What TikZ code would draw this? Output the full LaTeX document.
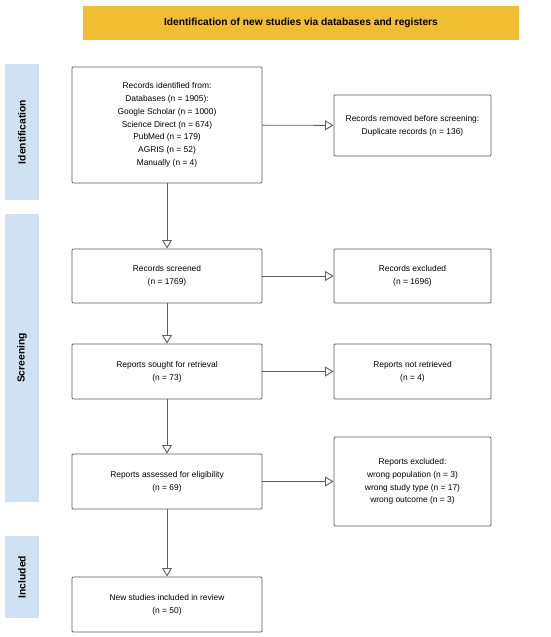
\documentclass[tikz,border=0pt]{standalone}
\usepackage{fontspec}
\setmainfont{Liberation Sans}
\usetikzlibrary{arrows.meta}
\definecolor{banner}{HTML}{F0BE32}
\definecolor{phase}{HTML}{CFE2F3}
\definecolor{edge}{HTML}{5F5F5F}
\begin{document}
\begin{tikzpicture}[x=1pt,y=-1pt,
  boxstyle/.style={draw=edge, line width=0.9pt, rounded corners=1pt, fill=white, align=center, inner sep=0pt,
    font=\fontsize{8.4}{12.8}\selectfont},
  phasebar/.style={fill=phase, draw=none, inner sep=0pt, minimum width=34pt},
  phaselabel/.style={rotate=90, font=\fontsize{10.3}{12}\selectfont\bfseries},
  conn/.style={draw=edge, line width=0.9pt, -{Triangle[open, length=8.5pt, width=10pt, fill=white]}}
]
\useasboundingbox (0,0) rectangle (550,637);
\fill[white] (0,0) rectangle (550,637);

% banner
\node[fill=banner, minimum width=436pt, minimum height=34pt, inner sep=0pt,
  font=\fontsize{10.2}{12}\selectfont\bfseries] (title) at (301,23) {Identification of new studies via databases and registers};

% phase bars
\node[phasebar, minimum height=136pt] (pid) at (22,132) {};
\node[phaselabel] (lid) at (pid.center) {Identification};
\node[phasebar, minimum height=288pt] (psc) at (22,358) {};
\node[phaselabel] (lsc) at (psc.center) {Screening};
\node[phasebar, minimum height=82pt] (pin) at (22,577) {};
\node[phaselabel] (lin) at (pin.center) {Included};

% left column
\node[boxstyle, minimum width=190pt, minimum height=116pt] (ident) at (167,125)
  {Records identified from:\\Databases (n = 1905):\\Google Scholar (n = 1000)\\Science Direct (n = 674)\\PubMed (n = 179)\\AGRIS (n = 52)\\Manually (n = 4)};
\node[boxstyle, minimum width=190pt, minimum height=54pt] (screen) at (167,276)
  {Records screened\\(n = 1769)};
\node[boxstyle, minimum width=190pt, minimum height=55pt] (sought) at (167,371.5)
  {Reports sought for retrieval\\(n = 73)};
\node[boxstyle, minimum width=190pt, minimum height=55pt] (assess) at (167,481.5)
  {Reports assessed for eligibility\\(n = 69)};
\node[boxstyle, minimum width=190pt, minimum height=55pt] (incl) at (167,604.5)
  {New studies included in review\\(n = 50)};

% right column
\node[boxstyle, minimum width=157pt, minimum height=61pt] (removed) at (412.5,125.5)
  {Records removed before screening:\\Duplicate records (n = 136)};
\node[boxstyle, minimum width=157pt, minimum height=54pt] (excl) at (412.5,276)
  {Records excluded\\(n = 1696)};
\node[boxstyle, minimum width=157pt, minimum height=55pt] (notret) at (412.5,371.5)
  {Reports not retrieved\\(n = 4)};
\node[boxstyle, minimum width=157pt, minimum height=89pt] (repexcl) at (412.5,481.5)
  {Reports excluded:\\wrong population (n = 3)\\wrong study type (n = 17)\\wrong outcome (n = 3)};

% connectors
\draw[conn] (ident) -- (screen);
\draw[conn] (screen) -- (sought);
\draw[conn] (sought) -- (assess);
\draw[conn] (assess) -- (incl);
\draw[conn] (ident) -- (removed);
\draw[conn] (screen) -- (excl);
\draw[conn] (sought) -- (notret);
\draw[conn] (assess) -- (repexcl);
\end{tikzpicture}
\end{document}
